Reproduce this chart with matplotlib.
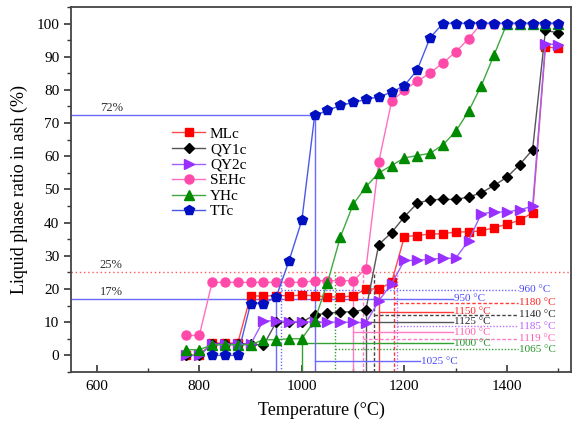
"""Liquid phase ratio in ash vs temperature, six ash samples."""
import matplotlib
matplotlib.use("Agg")
import matplotlib.pyplot as plt
from matplotlib.ticker import MultipleLocator

plt.rcParams['font.family'] = ['Liberation Serif', 'DejaVu Serif']
plt.rcParams['mathtext.fontset'] = 'stix'

# temperature grid (°C)
temps = [775, 800, 825, 850, 875, 900, 925, 950, 975, 1000, 1025, 1050, 1075, 1100,
         1125, 1150, 1175, 1200, 1225, 1250, 1275, 1300, 1325, 1350, 1375, 1400,
         1425, 1450, 1475, 1500]

# liquid phase ratio (%)
mlc = [0, 0, 3.7, 3.7, 3.7, 17.9, 17.9, 18.0, 18.0, 18.1, 18.0, 17.6, 17.6, 17.9,
       20.0, 20.0, 22.0, 35.8, 36.1, 36.6, 36.6, 37.2, 37.2, 37.5, 38.5, 39.5,
       40.7, 43.0, 93.0, 92.5]
qy1c = [0, 0, 3.5, 3.5, 3.5, 3.5, 3.0, 10.0, 10.0, 10.0, 12.2, 12.7, 13.0, 13.2,
        13.8, 33.4, 37.0, 41.8, 45.8, 46.9, 47.0, 47.0, 47.7, 49.0, 51.2, 53.7,
        57.5, 62.0, 97.9, 97.2]
qy2c = [0, 0, 3.3, 3.3, 3.3, 3.3, 10.5, 10.3, 10.2, 10.2, 10.0, 10.0, 10.0, 10.0,
        9.8, 16.4, 21.6, 28.6, 28.6, 29.0, 29.2, 29.3, 34.5, 42.7, 43.2, 43.2,
        43.9, 44.9, 93.9, 93.6]
sehc = [6.0, 6.0, 22.0, 22.0, 22.0, 22.0, 22.0, 22.0, 22.0, 22.0, 22.5, 22.5, 22.5, 22.5,
        26.1, 58.3, 76.5, 80.0, 82.6, 85.1, 88.1, 91.4, 95.4, 100, 100, 100,
        100, 100, 100, 100]
yhc = [1.7, 1.7, 3.2, 3.2, 3.2, 3.2, 4.7, 4.7, 5.0, 5.0, 10.5, 21.9, 35.6, 45.5,
       50.8, 55.0, 57.2, 59.5, 60.2, 60.9, 63.4, 67.5, 73.5, 81.3, 90.6, 100,
       100, 100, 100, 100]
# TTc starts at 825 °C
ttc_temps = temps[2:]
ttc = [0, 0, 0, 15.6, 15.6, 17.6, 28.5, 40.7, 72.3, 73.8, 75.3, 76.2,
       77.1, 77.9, 79.3, 81.3, 86.0, 95.7, 100, 100, 100, 100, 100, 100,
       100, 100, 100, 100]

# characteristic temperatures marked on the plot
ann_temp = [960, 950, 1180, 1150, 1140, 1125, 1185, 1100, 1119, 1000, 1065, 1025]
ann_top = [25, 17, 25, 20, 25, 13.8, 25, 22.5, 25, 5, 25, 72.3]
ann_level = [19.8, 17, 15.9, 13.2, 12.3, 10.2, 8.8, 7.0, 5.0, 3.7, 1.8, -1.8]
ann_label_x = [1424, 1297, 1424, 1297, 1424, 1297, 1424, 1297, 1424, 1297, 1424, 1232]
ann_color = ['#6a6aff', '#6a6aff', '#ff3b3b', '#ff3b3b', '#444444', '#555555',
             '#c070ff', '#ff7cc4', '#ff7cc4', '#33a033', '#33a033', '#6a6aff']
ann_text_color = ['#4848ff', '#4848ff', '#ff2020', '#ff2020', '#222222', '#222222',
                  '#c060ff', '#ff5cb0', '#ff5cb0', '#22952a', '#22952a', '#4848ff']
ann_style = [(0, (1, 1.3)), '-', (0, (2.5, 1.5)), '-', (0, (2.5, 1.5)), '-',
             (0, (1, 1.3)), '-', (0, (2.5, 1.5)), '-', (0, (1, 1.3)), '-']

# horizontal reference levels
ref_levels = [72.3, 25, 17]
ref_labels = ['72%', '25%', '17%']

xmin, xmax = 550, 1525
ymin, ymax = -5, 105

fig = plt.figure(figsize=(5.78, 4.32), dpi=100)
ax = fig.add_axes([0.123, 0.139, 0.865, 0.845])

# reference lines
ax.plot([xmin, 1025], [ref_levels[0], ref_levels[0]], color='#6a6aff', lw=1.0)
ax.plot([xmin, xmax], [ref_levels[1], ref_levels[1]], color='#ff5a5a', lw=1.0,
        linestyle=(0, (1, 2)))
ax.plot([xmin, 950], [ref_levels[2], ref_levels[2]], color='#6a6aff', lw=1.0)
for lev, lab in zip(ref_levels, ref_labels):
    ax.text(606, lev + 2.2, lab, fontsize=9, color='#333333', va='center')

for t, top, lev, lx, c, tc, ls in zip(ann_temp, ann_top, ann_level, ann_label_x,
                                      ann_color, ann_text_color, ann_style):
    ax.plot([t, t], [ymin, top], color=c, lw=1.0, linestyle=ls)
    ax.plot([t, lx - 2], [lev, lev], color=c, lw=1.0, linestyle=ls)
    ax.text(lx, lev, f'{t} °C', fontsize=8, color=tc, va='center', ha='left')

# data series
ms = 6.5
ax.plot(temps, mlc, color='#ff4a4a', lw=1.0, marker='s', ms=ms - 0.5,
        mfc='#ff0000', mec='#ff0000', label='MLc')
ax.plot(temps, qy1c, color='#555555', lw=1.0, marker='D', ms=ms - 1,
        mfc='#000000', mec='#000000', label='QY1c')
ax.plot(temps, qy2c, color='#a060ff', lw=1.0, marker='>', ms=ms,
        mfc='#9a30ff', mec='#9a30ff', label='QY2c')
ax.plot(temps, sehc, color='#ff70c0', lw=1.0, marker='o', ms=ms,
        mfc='#ff4aaa', mec='#ff4aaa', label='SEHc')
ax.plot(temps, yhc, color='#40a840', lw=1.0, marker='^', ms=ms,
        mfc='#008a00', mec='#008a00', label='YHc')
ax.plot(ttc_temps, ttc, color='#4a5ae8', lw=1.0, marker='p', ms=ms + 1,
        mfc='#0010c0', mec='#0010c0', label='TTc')

ax.set_xlim(xmin, xmax)
ax.set_ylim(ymin, ymax)
ax.xaxis.set_major_locator(MultipleLocator(200))
ax.xaxis.set_minor_locator(MultipleLocator(100))
ax.yaxis.set_major_locator(MultipleLocator(10))
ax.yaxis.set_minor_locator(MultipleLocator(5))
ax.tick_params(axis='x', which='both', direction='in', labelsize=11, color='#333333',
               top=False, pad=6)
ax.tick_params(axis='x', which='major', length=5, width=1.2)
ax.tick_params(axis='x', which='minor', length=3, width=1.0)
ax.tick_params(axis='y', which='both', direction='out', labelsize=11, color='#333333',
               right=False)
ax.tick_params(axis='y', which='major', length=5, width=1.2)
ax.tick_params(axis='y', which='minor', length=3, width=1.0)
for sp in ax.spines.values():
    sp.set_color('#444444')
    sp.set_linewidth(1.3)

ax.set_xlabel('Temperature (°C)', fontsize=13, labelpad=6)
ax.set_ylabel('Liquid phase ratio in ash (%)', fontsize=13, labelpad=6)

ax.legend(loc='upper left', bbox_to_anchor=(0.18, 0.70), frameon=False,
          fontsize=11, handlelength=2.2, labelspacing=0.12, handletextpad=0.3,
          borderpad=0.2)

fig.savefig('out.png', dpi=100)
